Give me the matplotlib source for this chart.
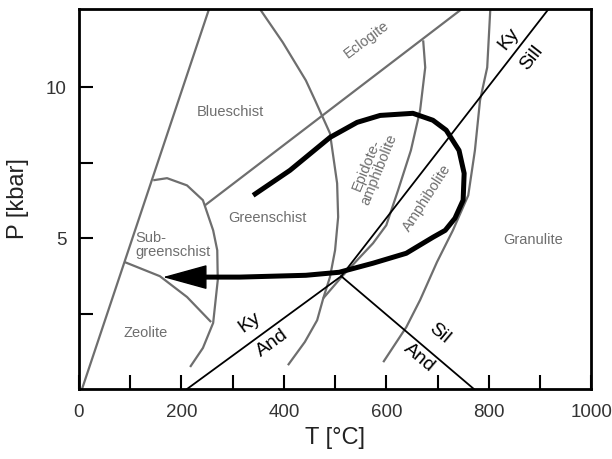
# Metamorphic facies P-T diagram with Al2SiO5 triple point and a clockwise P-T path

import numpy as np
import matplotlib.pyplot as plt

plt.rcParams["font.family"] = ["Liberation Sans", "DejaVu Sans"]

# facies boundaries (T in degC, P in kbar)
zeolite_left_T = [6, 254]
zeolite_left_P = [0, 12.6]

greenschist_right_T = [354, 398, 443, 461, 490, 504, 506, 500, 490, 477, 465, 441, 408]
greenschist_right_P = [12.58, 11.49, 10.23, 9.57, 8.48, 6.82, 5.70, 4.60, 3.71, 3.01, 2.28, 1.56, 0.79]

eclogite_lower_T = [246, 746]
eclogite_lower_P = [6.09, 12.58]

subgreen_arc_T = [145, 172, 211, 242, 262, 270, 271, 262, 242, 217]
subgreen_arc_P = [6.92, 6.99, 6.75, 6.26, 5.26, 4.60, 3.61, 2.19, 1.36, 0.73]

zeolite_top_T = [89, 158, 211, 258]
zeolite_top_P = [4.21, 3.74, 3.05, 2.22]

epidote_right_T = [672, 676, 666, 648, 623, 600, 574, 543, 514, 477]
epidote_right_P = [11.56, 10.66, 9.24, 7.91, 6.59, 5.43, 4.83, 4.27, 3.74, 3.01]

granulite_left_T = [803, 797, 783, 773, 760, 730, 699, 666, 639, 594]
granulite_left_P = [12.58, 10.66, 9.57, 7.91, 6.42, 5.26, 4.21, 2.95, 2.05, 0.89]

# Al2SiO5 reactions
ky_and_T = [211, 512]
ky_and_P = [0, 3.74]
ky_sil_T = [512, 916]
ky_sil_P = [3.74, 12.58]
sil_and_T = [512, 771]
sil_and_P = [3.74, 0]

# P-T path
path_T = [340, 412, 490, 543, 588, 652, 691, 717, 742, 752, 750, 734, 715, 691, 639, 574, 508, 443, 314, 236]
path_P = [6.42, 7.25, 8.34, 8.84, 9.07, 9.14, 8.91, 8.58, 7.91, 7.15, 6.26, 5.66, 5.26, 5.03, 4.50, 4.17, 3.87, 3.77, 3.71, 3.71]
arrow_tip = (164, 3.71)

facies_labels = [
    ("Blueschist", 295, 9.17, 0),
    ("Greenschist", 367, 5.66, 0),
    ("Zeolite", 131, 1.85, 0),
    ("Eclogite", 562, 11.59, 37),
    ("Epidote-\namphibolite", 574, 7.35, 68),
    ("Amphibolite", 680, 6.32, 57),
    ("Granulite", 887, 4.93, 0),
]
mineral_labels = [
    ("Ky", 838, 11.62, 52),
    ("Sill", 883, 10.99, 52),
    ("Ky", 334, 2.22, 36),
    ("And", 377, 1.52, 36),
    ("Sil", 703, 1.85, -40),
    ("And", 664, 1.03, -40),
]

gray = "#6e6e6e"

fig = plt.figure(figsize=(6.12, 4.59), dpi=100)
ax = fig.add_axes([0.129, 0.1525, 0.837, 0.828])

for T, P in [(zeolite_left_T, zeolite_left_P),
             (greenschist_right_T, greenschist_right_P),
             (eclogite_lower_T, eclogite_lower_P),
             (subgreen_arc_T, subgreen_arc_P),
             (zeolite_top_T, zeolite_top_P),
             (epidote_right_T, epidote_right_P),
             (granulite_left_T, granulite_left_P)]:
    ax.plot(T, P, color=gray, lw=1.6, solid_capstyle="butt")

for T, P in [(ky_and_T, ky_and_P), (ky_sil_T, ky_sil_P), (sil_and_T, sil_and_P)]:
    ax.plot(T, P, color="black", lw=1.3)

ax.plot(path_T, path_P, color="black", lw=3.6, solid_capstyle="butt", solid_joinstyle="round")
ax.annotate("", xy=arrow_tip, xytext=(path_T[-1], path_P[-1]),
            arrowprops=dict(arrowstyle="-|>,head_length=2.9,head_width=0.8",
                            mutation_scale=10, color="black", lw=1,
                            shrinkA=0, shrinkB=0))

for txt, T, P, rot in facies_labels:
    ax.text(T, P, txt, color=gray, fontsize=10.5, rotation=rot,
            ha="center", va="center", rotation_mode="anchor", linespacing=1.0)
ax.text(111, 4.77, "Sub-\ngreenschist", color=gray, fontsize=10.5,
        ha="left", va="center", linespacing=1.05)

for txt, T, P, rot in mineral_labels:
    ax.text(T, P, txt, color="black", fontsize=14, rotation=rot,
            ha="center", va="center", rotation_mode="anchor")

ax.set_xlim(0, 1000)
ax.set_ylim(0, 12.6)
ax.set_xticks([0, 200, 400, 600, 800, 1000])
ax.set_xticks([100, 300, 500, 700, 900], minor=True)
ax.set_yticks([5, 10])
ax.set_yticks([2.5, 7.5], minor=True)
ax.tick_params(which="both", direction="in", length=10, width=1.5,
               labelsize=13.5, labelcolor="#333333")
ax.tick_params(axis="x", pad=11)
ax.tick_params(axis="y", pad=9)
for s in ax.spines.values():
    s.set_linewidth(2)

ax.set_xlabel("T [°C]", fontsize=17, color="#222222", labelpad=4)
ax.set_ylabel("P [kbar]", fontsize=17, color="#222222", labelpad=12)

plt.savefig("out.png", dpi=100)
